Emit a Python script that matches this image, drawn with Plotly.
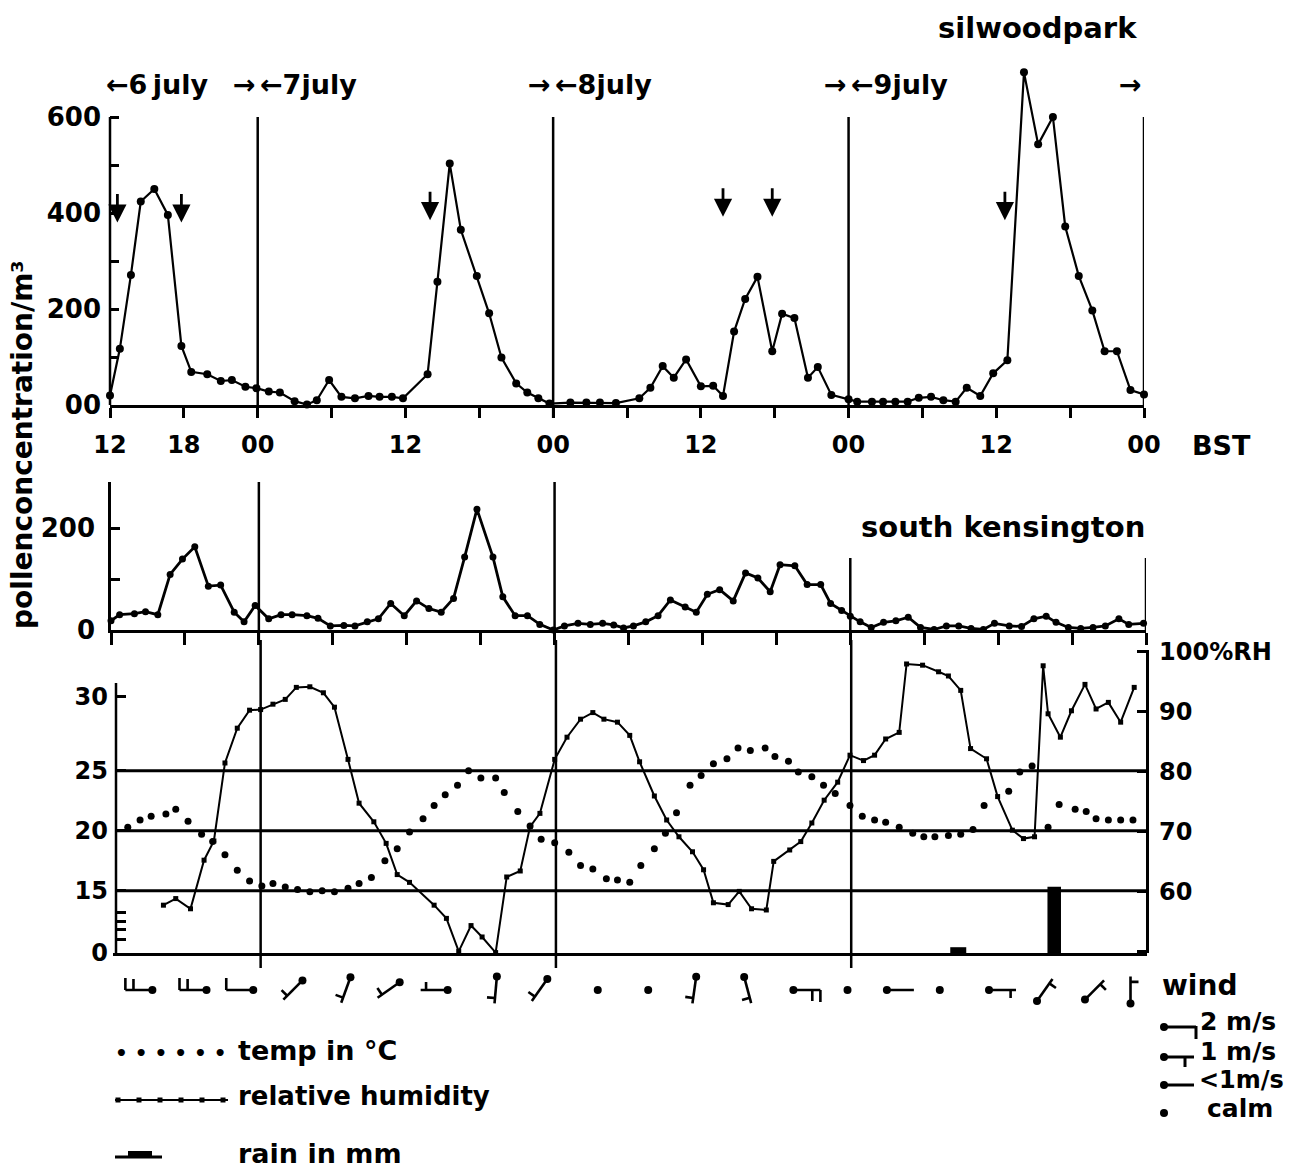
import math
import plotly.graph_objects as go

W, H = 1301, 1169

# ---------------- data (hours counted from 6 July 00:00 BST) ----------------
silwood_hours = [12.0, 12.8, 13.7, 14.5, 15.6, 16.7, 17.8, 18.6, 19.9, 21.0, 21.9, 23.0, 23.9, 24.9, 25.8,
                 27.0, 28.0, 28.8, 29.8, 30.8, 31.9, 33.0, 33.9, 34.9, 35.8,
                 37.8, 38.6, 39.6, 40.5, 41.8, 42.8, 43.8, 45.0, 45.9, 46.8, 47.7,
                 49.4, 50.7, 51.8, 53.1, 55.0, 55.9, 56.9, 57.8, 58.8, 60.0, 61.0, 61.8, 62.7, 63.6, 64.6,
                 65.8, 66.6, 67.6, 68.7, 69.5, 70.6, 72.0,
                 72.7, 73.9, 74.8, 75.8, 76.8, 77.7, 78.7, 79.7, 80.7, 81.6, 82.7, 83.75, 84.9, 86.25,
                 87.4, 88.6, 89.6, 90.7, 91.8, 92.8, 93.8, 94.9, 96.0]
silwood_conc = [20, 117, 271, 424, 450, 396, 123, 69, 64, 50, 52, 38, 35, 28, 26,
                8, 1, 10, 52, 17, 14, 19, 17, 17, 14,
                64, 257, 503, 365, 269, 191, 99, 45, 26, 14, 3,
                5, 5, 5, 4, 14, 36, 81, 57, 95, 39, 40, 19, 153, 221, 267,
                112, 190, 181, 57, 79, 21, 12,
                7, 7, 7, 7, 7, 15, 17, 10, 7, 36, 19, 66, 93, 693,
                543, 600, 372, 269, 197, 112, 112, 31, 22]

arrow_hours = [12.6, 17.8, 38.0, 61.8, 65.8, 84.7]
arrow_conc = [380, 380, 385, 392, 392, 385]

kens_hours = [12.0, 12.7, 13.9, 14.8, 15.8, 16.8, 17.8, 18.8, 19.9, 20.9, 22.0, 22.8, 23.7, 24.8, 25.8,
              26.7, 27.9, 28.8, 29.8, 30.9, 31.8, 32.8, 33.7, 34.7, 35.8, 36.8, 37.8, 38.8, 39.8, 40.7,
              41.7, 43.0, 43.8, 44.8, 45.8, 46.8, 47.9, 48.8, 49.9, 50.9, 51.9, 52.8, 53.6, 54.4, 55.4,
              56.4, 57.4, 58.6, 59.5, 60.4, 61.4, 62.5, 63.5, 64.5, 65.5, 66.3, 67.5, 68.5, 69.6, 70.4,
              71.3, 72.0, 72.8, 73.7, 74.7, 75.7, 76.7, 77.7, 78.8, 79.8, 80.8, 81.8, 82.8, 83.7, 84.9,
              85.9, 86.9, 87.9, 88.7, 89.7, 90.7, 91.7, 92.7, 93.8, 94.6, 95.8]
kens_conc = [18, 30, 32, 36, 30, 109, 139, 163, 86, 88, 35, 16, 48, 22, 30,
             30, 28, 23, 8, 9, 8, 16, 22, 52, 28, 57, 42, 35, 62, 143,
             237, 143, 65, 28, 28, 11, 0, 8, 13, 11, 13, 10, 4, 8, 16,
             28, 59, 45, 35, 70, 79, 57, 112, 102, 75, 128, 126, 89, 89, 52,
             38, 27, 16, 5, 15, 18, 25, 5, 1, 8, 8, 3, 1, 13, 8,
             7, 22, 27, 15, 5, 3, 5, 8, 22, 11, 13]

temp_hours = [13.2, 14.2, 15.1, 16.3, 17.1, 18.1, 19.2, 20.1, 21.1, 22.1, 23.1, 24.1, 25.0, 26.0, 27.0,
              28.0, 29.0, 30.0, 31.1, 32.0, 33.0, 34.1, 35.1, 36.1, 37.2, 38.1, 39.0, 40.0, 40.9, 41.9,
              43.1, 43.8, 44.9, 45.9, 46.8, 47.9,
              49.05, 50.0, 51.0, 52.1, 53.0, 54.0, 54.9, 56.0, 56.9, 57.8, 58.9, 59.8, 60.8, 61.9, 62.8,
              63.8, 65.0, 65.8, 66.9, 67.7, 68.8, 69.75, 70.7, 71.9,
              72.9, 73.9, 74.8, 75.9, 77.0, 77.9, 78.8, 79.9, 80.9, 81.9, 82.8, 84.8, 85.7, 86.7, 88.0,
              88.9, 90.2, 91.1, 91.9, 92.9, 93.9, 94.9]
temp_c = [20.3, 20.9, 21.2, 21.4, 21.8, 20.8, 19.7, 19.1, 18.0, 16.7, 15.8, 15.4, 15.6, 15.3, 15.1,
          14.9, 15.0, 14.9, 15.2, 15.6, 16.1, 17.5, 18.5, 19.9, 21.0, 22.1, 23.0, 23.8, 25.0, 24.4,
          24.4, 23.2, 21.6, 20.4, 19.3, 19.0,
          18.2, 17.1, 16.8, 16.0, 15.9, 15.7, 17.1, 18.5, 19.8, 21.5, 23.8, 24.6, 25.6, 26.0, 26.9,
          26.7, 26.9, 26.2, 25.8, 24.9, 24.5, 23.8, 23.1, 22.1,
          21.2, 20.9, 20.7, 20.3, 19.8, 19.5, 19.5, 19.6, 19.7, 20.1, 22.1, 23.3, 24.9, 25.4, 20.3,
          22.2, 21.8, 21.6, 21.0, 20.9, 20.9, 20.9]

rh_hours = [16.1, 17.1, 18.3, 19.4, 20.2, 21.1, 22.1, 23.1, 24.0, 25.0, 26.0, 26.9, 28.0, 29.1, 30.0,
            31.1, 32.0, 33.2, 34.2, 35.1, 36.1, 38.1, 39.1, 40.1, 41.1, 42.0, 43.1, 44.0, 45.1, 45.9,
            46.7, 47.9, 48.9, 50.0, 51.0, 51.9, 53.0, 54.0, 54.8, 56.0, 57.0, 58.0, 59.1, 60.0, 60.8,
            62.0, 62.9, 63.9, 65.1, 65.7, 67.0, 67.9, 68.8, 69.8, 70.9, 71.9, 73.0, 73.9, 74.8, 75.9,
            76.5, 77.8, 79.1, 79.9, 80.9, 81.7, 83.0, 83.9, 85.1, 86.0, 86.9, 87.6, 88.0, 89.0, 89.9,
            91.0, 91.9, 92.9, 93.9, 95.0]
rh_pct = [57.8, 58.9, 57.2, 65.3, 68.5, 81.5, 87.3, 90.3, 90.4, 91.3, 92.1, 94.1, 94.2, 93.2, 90.8,
          82.1, 74.8, 71.7, 68.1, 62.9, 61.6, 57.8, 55.6, 50.1, 54.4, 52.5, 49.9, 62.5, 63.5, 70.9,
          73.1, 82.1, 85.8, 88.8, 89.9, 88.8, 88.3, 86.1, 81.7, 76.0, 72.0, 69.2, 66.7, 63.7, 58.2,
          57.9, 60.1, 57.2, 57.0, 65.1, 67.0, 68.4, 71.5, 75.3, 78.3, 82.8, 81.9, 82.8, 85.5, 86.6,
          98.0, 97.8, 96.7, 96.0, 93.6, 83.9, 82.2, 75.9, 70.3, 68.9, 69.2, 97.7, 89.7, 85.8, 90.2,
          94.6, 90.5, 91.6, 88.3, 94.1]

rain_hours = [80.7, 88.5]
rain_mm = [1.4, 16.0]

# wind: dot position (hours), shaft direction (deg, 0 = right, 90 = up), speed class
# class: 0 calm, 1 <1 m/s, 2 = 1 m/s, 3 = 2 m/s, 4 = stronger (two barbs)
wind_hours = [15.2, 19.6, 23.4, 27.4, 31.3, 35.3, 39.2, 43.2, 47.3, 51.4, 55.5, 59.4, 63.3, 67.3,
              71.7, 74.9, 79.2, 83.2, 87.1, 91.0, 94.7]
wind_dir = [180, 180, 180, 225, 250, 215, 180, 265, 235, None, None, 262, 285, 0,
            None, 0, None, 0, 55, 45, 90]
wind_class = [4, 4, 3, 2, 2, 2, 2, 2, 2, 0, 0, 2, 2, 4, 0, 1, 0, 2, 2, 2, 2]

# temperature axis labels (the axis is broken below 15 and stretched at 30)
temp_tick_vals = [9.83, 10.92, 11.75, 12.42, 13.17, 15, 20, 25, 31.17]
temp_tick_text = ["0", "", "", "", "", "15", "20", "25", "30"]
temp_grid = [15, 20, 25]
rh_tick_vals = [50, 60, 70, 80, 90, 100]
rh_tick_text = ["", "60", "70", "80", "90", "100%RH"]
hour_ticks = list(range(12, 97, 6))
hour_labels = {12: "12", 18: "18", 24: "00", 36: "12", 48: "00", 60: "12", 72: "00", 84: "12", 96: "00"}
day_bounds = [24, 48, 72, 96]
day_names = ["6", "7", "8", "9"]

# ---------------- layout geometry (pixels) ----------------
def fx(px):
    return px / W


def fy(py):
    return 1 - py / H


TOPX = (110, 1144)
MIDX = (111, 1146)
BOTX = (113, 1146.5)
FONT = "DejaVu Sans"
BLACK = "black"


def font(size):
    return dict(family=FONT, size=size, color=BLACK, weight="bold")


fig = go.Figure()

fig.add_trace(go.Scatter(x=silwood_hours, y=silwood_conc, mode="lines+markers",
                         line=dict(color=BLACK, width=2.2), marker=dict(color=BLACK, size=8),
                         xaxis="x", yaxis="y", cliponaxis=False, showlegend=False, hoverinfo="skip"))
fig.add_trace(go.Scatter(x=kens_hours, y=kens_conc, mode="lines+markers",
                         line=dict(color=BLACK, width=2.8), marker=dict(color=BLACK, size=7),
                         xaxis="x2", yaxis="y2", cliponaxis=False, showlegend=False, hoverinfo="skip"))
fig.add_trace(go.Bar(x=rain_hours, y=rain_mm, width=[1.3, 1.1], marker=dict(color=BLACK, line=dict(width=0)),
                     xaxis="x3", yaxis="y5", showlegend=False, hoverinfo="skip"))
fig.add_trace(go.Scatter(x=rh_hours, y=rh_pct, mode="lines+markers",
                         line=dict(color=BLACK, width=2), marker=dict(color=BLACK, size=5, symbol="square"),
                         xaxis="x3", yaxis="y3", cliponaxis=False, showlegend=False, hoverinfo="skip"))
fig.add_trace(go.Scatter(x=temp_hours, y=temp_c, mode="markers",
                         marker=dict(color=BLACK, size=7),
                         xaxis="x3", yaxis="y4", cliponaxis=False, showlegend=False, hoverinfo="skip"))

# wind glyphs: computed from direction/class through the wind axis
PXH = (BOTX[1] - BOTX[0]) / 84.0
WIND_Y = (965, 1015)
PXY = (WIND_Y[1] - WIND_Y[0]) / 2.0
SHAFT = 27
segx, segy, dotx, doty = [], [], [], []
for h, d, c in zip(wind_hours, wind_dir, wind_class):
    if d is None or c == 0:
        dotx.append(h)
        doty.append(0)
        continue
    a = math.radians(d)
    y0 = -0.5 * SHAFT * math.sin(a) / PXY
    ex = h + SHAFT * math.cos(a) / PXH
    ey = y0 + SHAFT * math.sin(a) / PXY
    dotx.append(h)
    doty.append(y0)
    segx += [h, ex, None]
    segy += [y0, ey, None]
    b = math.radians(d - 90)
    barbs = {1: [], 2: [(0.8, 8)], 3: [(1.0, 12)], 4: [(1.0, 12), (0.7, 11)]}[c]
    for frac, blen in barbs:
        bx = h + SHAFT * frac * math.cos(a) / PXH
        by = y0 + SHAFT * frac * math.sin(a) / PXY
        segx += [bx, bx + blen * math.cos(b) / PXH, None]
        segy += [by, by + blen * math.sin(b) / PXY, None]

fig.add_trace(go.Scatter(x=segx, y=segy, mode="lines", line=dict(color=BLACK, width=2.6),
                         xaxis="x3", yaxis="y6", cliponaxis=False, showlegend=False, hoverinfo="skip"))
fig.add_trace(go.Scatter(x=dotx, y=doty, mode="markers", marker=dict(color=BLACK, size=8),
                         xaxis="x3", yaxis="y6", cliponaxis=False, showlegend=False, hoverinfo="skip"))

ax_common = dict(showgrid=False, zeroline=False, fixedrange=True, linecolor=BLACK, tickcolor=BLACK,
                 automargin=False)

layout = dict(
    template="none",
    width=W, height=H, margin=dict(l=0, r=0, t=0, b=0, pad=0, autoexpand=False),
    paper_bgcolor="white", plot_bgcolor="white", showlegend=False,
    font=font(24), barmode="overlay",
    xaxis=dict(domain=[fx(TOPX[0]), fx(TOPX[1])], anchor="y", range=[12, 96], showline=True, linewidth=2.5,
               ticks="outside", ticklen=10, tickwidth=2.5, tickvals=hour_ticks,
               ticktext=[hour_labels.get(t, "") for t in hour_ticks], tickfont=font(24),
               ticklabelstandoff=6, **ax_common),
    xaxis2=dict(domain=[fx(MIDX[0]), fx(MIDX[1])], anchor="y2", range=[12, 96], showline=True, linewidth=2.5,
                ticks="outside", ticklen=12, tickwidth=2.5, tickvals=hour_ticks, showticklabels=False,
                **ax_common),
    xaxis3=dict(domain=[fx(BOTX[0]), fx(BOTX[1])], anchor="y3", range=[12, 96], showline=True, linewidth=3,
                ticks="", showticklabels=False, **ax_common),
    yaxis=dict(domain=[fy(405), fy(60)], anchor="x", range=[0, (405 - 60) / 0.48], showline=False,
               ticks="inside", ticklen=9, tickwidth=2.5, tickvals=[0, 100, 200, 300, 400, 500, 600],
               ticktext=["00", "", "200", "", "400", "", "600"], tickfont=font(26),
               ticklabelstandoff=8, **ax_common),
    yaxis2=dict(domain=[fy(630), fy(482)], anchor="x2", range=[0, (630 - 482) / 0.51], showline=True,
                linewidth=2.5, ticks="inside", ticklen=9, tickwidth=2.5, tickvals=[0, 100, 200],
                ticktext=["0", "", "200"], tickfont=font(26), ticklabelstandoff=8, **ax_common),
    yaxis3=dict(domain=[fy(953), fy(650)], anchor="free", position=fx(BOTX[1]), side="right",
                range=[49.83, 100.33], showline=True, linewidth=2.5, ticks="inside", ticklen=9,
                tickwidth=2.5, tickvals=rh_tick_vals, ticktext=rh_tick_text, tickfont=font(24),
                ticklabelstandoff=6, **ax_common),
    yaxis4=dict(overlaying="y3", anchor="free", position=fx(116), side="left", range=[9.80, 35.08],
                showline=False, ticks="inside", ticklen=9, tickwidth=2.5, tickvals=temp_tick_vals,
                ticktext=temp_tick_text, tickfont=font(24), ticklabelstandoff=8, **ax_common),
    yaxis5=dict(overlaying="y3", anchor="x3", range=[0, (953 - 650) / 4.133], visible=False, fixedrange=True),
    yaxis6=dict(domain=[fy(WIND_Y[1]), fy(WIND_Y[0])], anchor="x3", range=[-1, 1], visible=False,
                fixedrange=True),
)
fig.update_layout(**layout)

shapes = []
LW = 2.5
line_style = dict(color=BLACK, width=LW)
# top-panel left axis (only up to 600)
shapes.append(dict(type="line", xref="paper", x0=fx(TOPX[0]), x1=fx(TOPX[0]), yref="y", y0=0, y1=600,
                   line=line_style))
# day boundary lines
for d in day_bounds:
    shapes.append(dict(type="line", xref="x", x0=d, x1=d, yref="paper", y0=fy(405 if d == 96 else 418),
                       y1=fy(117), line=line_style))
    top = 482 if d < 72 else 558
    shapes.append(dict(type="line", xref="x2", x0=d, x1=d, yref="paper", y0=fy(630 if d == 96 else 641),
                       y1=fy(top), line=line_style))
    if d < 96:
        shapes.append(dict(type="line", xref="x3", x0=d, x1=d, yref="paper", y0=fy(968), y1=fy(640),
                           line=line_style))
# bottom panel horizontal reference lines and left axis
for g in temp_grid:
    shapes.append(dict(type="line", xref="paper", x0=fx(116), x1=fx(BOTX[1]), yref="y4", y0=g, y1=g,
                       line=dict(color=BLACK, width=3)))
shapes.append(dict(type="line", xref="paper", x0=fx(116), x1=fx(116), yref="paper", y0=fy(953), y1=fy(683),
                   line=line_style))

# legend decorations (bottom left)
shapes.append(dict(type="line", xref="paper", yref="paper", x0=fx(115), x1=fx(228), y0=fy(1100), y1=fy(1100),
                   line=dict(color=BLACK, width=2)))
for i in range(6):
    cx = 118 + i * 21
    shapes.append(dict(type="rect", xref="paper", yref="paper", x0=fx(cx - 2.5), x1=fx(cx + 2.5),
                       y0=fy(1102.5), y1=fy(1097.5), fillcolor=BLACK, line=dict(width=0)))
shapes.append(dict(type="line", xref="paper", yref="paper", x0=fx(115), x1=fx(162), y0=fy(1157), y1=fy(1157),
                   line=dict(color=BLACK, width=3)))
shapes.append(dict(type="rect", xref="paper", yref="paper", x0=fx(128), x1=fx(152), y0=fy(1158), y1=fy(1151),
                   fillcolor=BLACK, line=dict(width=0)))

# wind legend glyphs (right)
def wl_dot(x, y):
    return dict(type="circle", xref="paper", yref="paper", x0=fx(x - 4), x1=fx(x + 4), y0=fy(y + 4),
                y1=fy(y - 4), fillcolor=BLACK, line=dict(width=0))


def wl_line(x0, y0, x1, y1):
    return dict(type="line", xref="paper", yref="paper", x0=fx(x0), x1=fx(x1), y0=fy(y0), y1=fy(y1),
                line=dict(color=BLACK, width=3))


shapes += [wl_dot(1164, 1027), wl_line(1164, 1027, 1196, 1027), wl_line(1196, 1026, 1196, 1039),
           wl_dot(1164, 1057), wl_line(1164, 1057, 1194, 1057), wl_line(1185, 1057, 1185, 1067),
           wl_dot(1164, 1085), wl_line(1164, 1085, 1194, 1085),
           wl_dot(1164, 1113)]
fig.update_layout(shapes=shapes)

ann = []


def txt(text, x, y, size, xanchor="left", xref="paper", **kw):
    d = dict(text=text, x=x if xref != "paper" else fx(x), y=fy(y), xref=xref, yref="paper",
             xanchor=xanchor, yanchor="middle", showarrow=False, font=font(size))
    d.update(kw)
    return d


ann.append(txt("silwoodpark", 1139, 28, 29, xanchor="right"))
ann.append(txt("south kensington", 1147, 527, 29, xanchor="right"))
ann.append(txt("BST", 1190, 446, 27))
ann.append(txt("pollenconcentration/m³", 22, 445, 28, xanchor="center", textangle=-90))
ann.append(txt("wind", 1160, 985, 28))
# date labels
starts = [12] + day_bounds[:-1]
for i, (s, name) in enumerate(zip(starts, day_names)):
    if i == 0:
        ann.append(txt("←" + name + "\u2009july", 104, 84, 27))
    else:
        ann.append(txt("←" + name + "july", s, 84, 27, xref="x"))
for d in day_bounds:
    ann.append(txt("→", d, 84, 27, xanchor="right", xref="x"))
# arrows marking events in the top panel
for h, v in zip(arrow_hours, arrow_conc):
    ann.append(dict(x=h, y=v, xref="x", yref="y", text="", showarrow=True, ax=0, ay=-30,
                    arrowhead=2, arrowsize=1.3, arrowwidth=2.8, arrowcolor=BLACK))
# legend text
ann.append(txt("• • • • • •", 113, 1053, 20))
ann.append(txt("temp in °C", 236, 1050, 27))
ann.append(txt("relative humidity", 236, 1096, 26))
ann.append(txt("rain in mm", 236, 1153, 27))
ann.append(txt("2 m/s", 1198, 1021, 25))
ann.append(txt("1 m/s", 1198, 1051, 25))
ann.append(txt("<1m/s", 1197, 1080, 24))
ann.append(txt("calm", 1205, 1108, 25))
fig.update_layout(annotations=ann)

fig.write_html("out.html")
